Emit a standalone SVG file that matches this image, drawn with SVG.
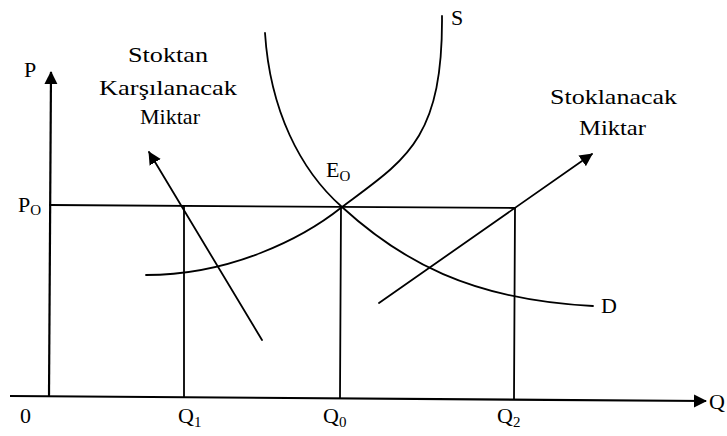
<svg xmlns="http://www.w3.org/2000/svg" width="727" height="436" viewBox="0 0 727 436">
<defs>
<style>
.ln{fill:none;stroke:#000;stroke-width:1.8;stroke-linecap:round}
.ax{fill:none;stroke:#000;stroke-width:2.2}
text{font-family:"Liberation Serif","Times New Roman",serif;fill:#000;font-size:22px}
.sub{font-size:15px}
.lbl{font-size:22px}
</style>
<marker id="ah" markerUnits="userSpaceOnUse" markerWidth="14" markerHeight="14" viewBox="0 0 14 14" refX="12" refY="7" orient="auto">
<path d="M0,0.5 L13,7 L0,13.5 Z" fill="#000"/>
</marker>
</defs>
<rect width="727" height="436" fill="#fff"/>
<g id="axes">
<line class="ax" x1="49" y1="396" x2="51" y2="72" marker-end="url(#ah)"/>
<line class="ax" x1="10" y1="396" x2="706" y2="401" marker-end="url(#ah)"/>
</g>
<g id="connectors">
<line class="ln" x1="50" y1="205" x2="515" y2="208"/>
<line class="ln" x1="184" y1="206" x2="184" y2="397"/>
<line class="ln" x1="341" y1="207" x2="340" y2="398"/>
<line class="ln" x1="515" y1="208" x2="514" y2="399"/>
<line class="ln" x1="262" y1="340" x2="149" y2="152" marker-end="url(#ah)"/>
<line class="ln" x1="379" y1="303" x2="592" y2="154" marker-end="url(#ah)"/>
</g>
<g id="curve-D">
<path class="ln" d="M265,33 C270,110 300,170 342,207 C400,260 470,300 593,306"/>
<text x="601" y="313">D</text>
</g>
<g id="curve-S">
<path class="ln" d="M442,16 C443,140 405,160 342,207 C302,239 230,275 146,275"/>
<text x="451" y="25">S</text>
</g>
<g id="label-E0"><text x="326" y="177">E<tspan class="sub" dy="4">O</tspan></text></g>
<g id="label-P"><text x="24" y="77">P</text></g>
<g id="label-P0"><text x="18" y="212">P<tspan class="sub" dy="3">O</tspan></text></g>
<g id="label-0"><text x="20" y="423">0</text></g>
<g id="label-Q1"><text x="178" y="423">Q<tspan class="sub" dy="4">1</tspan></text></g>
<g id="label-Q0"><text x="323" y="423">Q<tspan class="sub" dy="4">0</tspan></text></g>
<g id="label-Q2"><text x="497" y="423">Q<tspan class="sub" dy="4">2</tspan></text></g>
<g id="label-Q"><text x="709" y="409">Q</text></g>
<g id="label-stoktan">
<text x="128" y="62" textLength="80" lengthAdjust="spacingAndGlyphs">Stoktan</text>
<text x="99" y="95" textLength="138" lengthAdjust="spacingAndGlyphs">Karşılanacak</text>
<text x="140" y="124" textLength="60" lengthAdjust="spacingAndGlyphs">Miktar</text>
</g>
<g id="label-stoklanacak">
<text x="550" y="104" textLength="127" lengthAdjust="spacingAndGlyphs">Stoklanacak</text>
<text x="579" y="135" textLength="67" lengthAdjust="spacingAndGlyphs">Miktar</text>
</g>
</svg>
